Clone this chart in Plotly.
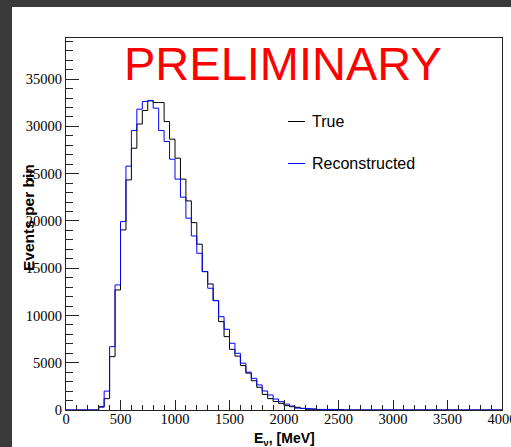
import numpy as np
import plotly.graph_objects as go

# ---- data (events per 50 MeV bin, bins from 0 to 4000 MeV) ----
bin_width = 50
x_max = 4000
true_counts = [0, 0, 0, 0, 0, 0,
               350, 1200, 5640, 12700, 19050, 24340, 27690, 30250, 31680, 32700,
               32520, 32520, 30510, 28650, 26640, 24420, 22120, 19820, 17540, 14640,
               13330, 11570, 9350, 7760, 6420, 5700, 4700, 3900, 3100, 2400,
               1650, 1200, 900, 700, 460, 350, 280, 180, 80, 70,
               60, 60, 60, 50, 50] + [0] * 29
reco_counts = [0, 0, 0, 0, 0, 0,
               300, 2000, 6700, 13230, 19930, 25800, 29560, 31820, 32630, 32740,
               31930, 29560, 28400, 26530, 24420, 22510, 20290, 18410, 16580, 14640,
               12880, 11570, 9870, 8540, 7060, 6000, 4950, 4000, 3350, 2650,
               2010, 1590, 1160, 880, 620, 420, 200, 160, 150, 120,
               40, 40, 40, 30, 20] + [0] * 29
series_names = ["True", "Reconstructed"]
x_ticks = [0, 500, 1000, 1500, 2000, 2500, 3000, 3500, 4000]
y_ticks = [0, 5000, 10000, 15000, 20000, 25000, 30000, 35000]

edges = list(np.arange(0, x_max + bin_width, bin_width))

W, H = 511, 447
L, R, T, B = 66, 9, 38, 37
pw, ph = W - L - R, H - T - B


def px(xp):
    return (xp - L) / pw


def py(yp):
    return (H - B - yp) / ph


fig = go.Figure()
for counts, color, name in [(true_counts, "black", series_names[0]),
                            (reco_counts, "blue", series_names[1])]:
    fig.add_trace(go.Scatter(
        x=edges, y=list(counts) + [counts[-1]],
        mode="lines", line=dict(color=color, width=1, shape="hv"),
        name=name, showlegend=False, hoverinfo="skip"))

tickfont = dict(family="Liberation Serif", size=14.5, color="black")
fig.update_layout(
    width=W, height=H,
    margin=dict(l=L, r=R, t=T, b=B, pad=0, autoexpand=False),
    paper_bgcolor="#3a3a3a", plot_bgcolor="white",
    xaxis=dict(range=[0, x_max], tickvals=x_ticks, ticktext=[str(v) for v in x_ticks],
               ticks="inside", ticklen=10, ticklabeloverflow="allow", automargin=False,
               ticklabelstandoff=-4,
               tickcolor="#222", showline=True, linecolor="#222", linewidth=1,
               mirror=True, showgrid=False, zeroline=False, tickfont=tickfont,
               minor=dict(dtick=100, ticks="inside", ticklen=5, tickcolor="#222")),
    yaxis=dict(range=[0, 39350], tickvals=y_ticks, ticktext=[str(v) for v in y_ticks],
               ticks="inside", ticklen=13, automargin=False,
               tickcolor="#222", showline=True, linecolor="#222", linewidth=1,
               mirror=True, showgrid=False, zeroline=False, tickfont=tickfont,
               minor=dict(dtick=1000, ticks="inside", ticklen=6.5, tickcolor="#222")),
)

# white canvas behind the pad
fig.add_shape(type="rect", xref="paper", yref="paper",
              x0=px(12), x1=px(W + 20), y0=py(H + 20), y1=py(7),
              fillcolor="white", line=dict(width=0), layer="below")

sans = "Liberation Sans"
fig.add_annotation(text="PRELIMINARY", xref="paper", yref="paper",
                   x=px(283), y=py(63.5), xanchor="center", yanchor="middle",
                   showarrow=False, font=dict(family=sans, size=47, color="red"))
fig.add_annotation(text="<b>Events per bin</b>", xref="paper", yref="paper",
                   x=px(28), y=py(218), textangle=-90, xanchor="center",
                   yanchor="middle", showarrow=False,
                   font=dict(family=sans, size=15.5, color="black"))
fig.add_annotation(text="<b>E<sub>ν</sub>, [MeV]</b>", xref="paper", yref="paper",
                   x=px(284), y=py(439), xanchor="center", yanchor="middle",
                   showarrow=False, font=dict(family=sans, size=14, color="black"))

# legend
for name, color, yl in [(series_names[0], "black", 121.5), (series_names[1], "blue", 163.5)]:
    fig.add_shape(type="line", xref="paper", yref="paper",
                  x0=px(288), x1=px(305), y0=py(yl), y1=py(yl),
                  line=dict(color=color, width=1))
    fig.add_annotation(text=name, xref="paper", yref="paper",
                       x=px(310), y=py(yl), xanchor="left", yanchor="middle",
                       showarrow=False, font=dict(family=sans, size=16, color="black"))

fig.write_html("out.html")
